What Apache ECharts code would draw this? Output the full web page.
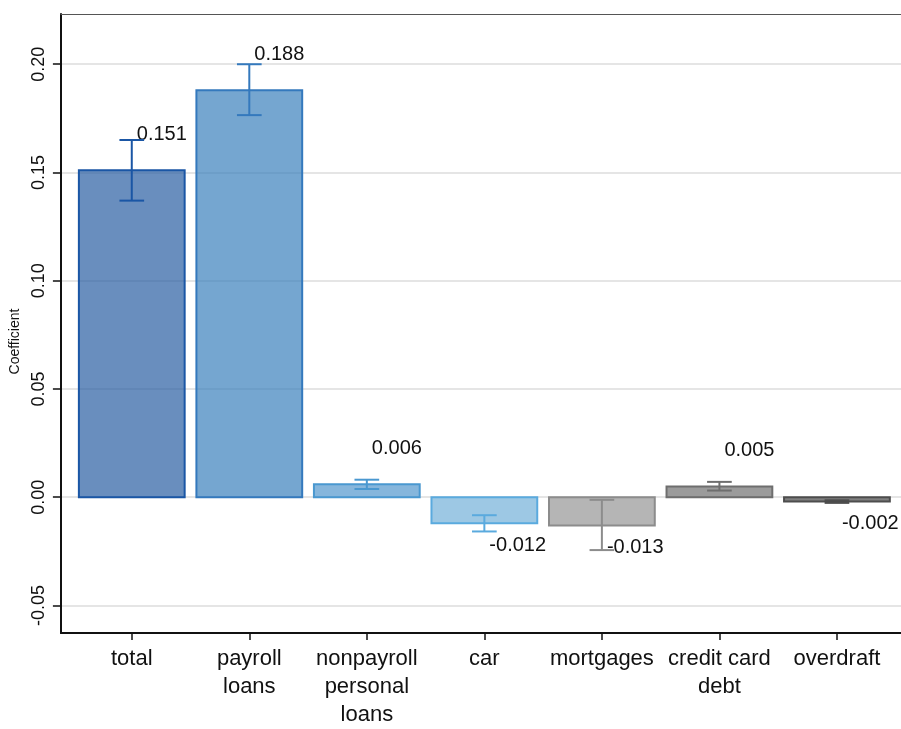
<!DOCTYPE html>
<html>
<head>
<meta charset="utf-8">
<script src="https://cdn.jsdelivr.net/npm/echarts@6/dist/echarts.min.js"></script>
<style>
  html, body { margin: 0; padding: 0; background: #fff; }
  #chart { width: 901px; height: 729px; }
</style>
</head>
<body>
<div id="chart"></div>
<script>
// Loan categories and estimated coefficients with 95% confidence bounds
const categories = ['total', 'payroll\nloans', 'nonpayroll\npersonal\nloans', 'car', 'mortgages', 'credit card\ndebt', 'overdraft'];
const coef   = [0.151, 0.188, 0.006, -0.012, -0.013, 0.005, -0.002];
const ciLow  = [0.137, 0.1765, 0.0038, -0.0158, -0.0244, 0.0031, -0.0026];
const ciHigh = [0.165, 0.200, 0.0081, -0.0083, -0.0012, 0.0071, -0.0014];
const yTicks = [-0.05, 0, 0.05, 0.10, 0.15, 0.20];

// Bar styling per category
const fills   = ['rgba(42,94,162,0.7)', 'rgba(59,128,188,0.7)', 'rgba(82,151,205,0.7)', 'rgba(115,176,216,0.7)',
                 'rgba(149,149,149,0.7)', 'rgba(112,112,112,0.7)', 'rgba(72,72,72,0.7)'];
const strokes = ['#1a56a5', '#3479bd', '#4a98d0', '#5aaade', '#8c8c8c', '#6e6e6e', '#4d4d4d'];

const positions = categories.map((c, i) => i + 1);
const FONT = "'Liberation Sans', Arial, sans-serif";
const X_MIN = 0.397, X_MAX = 7.545;

const chart = echarts.init(document.getElementById('chart'), null, { renderer: 'canvas' });

chart.setOption({
  animation: false,
  backgroundColor: '#fff',
  grid: { left: 58, right: 0, top: 14, bottom: 95 },
  xAxis: [
    {
      type: 'value', min: X_MIN, max: X_MAX,
      axisLine: { onZero: false, lineStyle: { color: '#111', width: 2 } },
      axisTick: { customValues: positions, length: 7, lineStyle: { color: '#111', width: 1.5 } },
      axisLabel: {
        customValues: positions,
        formatter: v => categories[Math.round(v) - 1] || '',
        fontFamily: FONT, fontSize: 22, lineHeight: 28, color: '#111', margin: 12
      },
      splitLine: { show: false }
    },
    {
      // plain frame line along the top of the plot
      type: 'value', position: 'top', min: X_MIN, max: X_MAX,
      axisLine: { onZero: false, lineStyle: { color: '#555', width: 1.2 } },
      axisTick: { show: false }, axisLabel: { show: false }, splitLine: { show: false }
    }
  ],
  yAxis: {
    type: 'value', min: -0.0627, max: 0.2232,
    name: 'Coefficient', nameLocation: 'middle', nameGap: 34,
    nameTextStyle: { fontFamily: FONT, fontSize: 14, color: '#111', padding: [0, 36, 0, 0] },
    axisLine: { onZero: false, lineStyle: { color: '#111', width: 2 } },
    axisTick: { customValues: yTicks, length: 8, lineStyle: { color: '#111', width: 1.5 } },
    axisLabel: {
      customValues: yTicks, rotate: 90, margin: 13,
      formatter: v => v.toFixed(2),
      fontFamily: FONT, fontSize: 18, color: '#111'
    },
    splitLine: { show: true, lineStyle: { color: '#dcdcdc', width: 1.5 } }
  },
  series: [
    {
      // bars with value labels
      type: 'custom',
      data: coef.map((v, i) => [positions[i], v, i]),
      renderItem: (params, api) => {
        const x = api.value(0), v = api.value(1), i = api.value(2);
        const base = api.coord([x, 0]);
        const top = api.coord([x, v]);
        const w = api.size([0.9, 0])[0];
        const y0 = Math.min(base[1], top[1]);
        const h = Math.abs(base[1] - top[1]);
        const labelY = v >= 0 ? top[1] - 26 : top[1] + 12;
        return {
          type: 'group',
          children: [
            {
              type: 'rect',
              shape: { x: base[0] - w / 2, y: y0, width: w, height: Math.max(h, 1) },
              style: { fill: fills[i], stroke: strokes[i], lineWidth: 2 }
            },
            {
              type: 'text',
              x: base[0] + 5, y: labelY,
              style: {
                text: v.toFixed(3), fill: '#111', fontFamily: FONT, fontSize: 20,
                align: 'left', verticalAlign: v >= 0 ? 'bottom' : 'top'
              },
              z2: 10
            }
          ]
        };
      },
      z: 2
    },
    {
      // confidence interval whiskers
      type: 'custom',
      data: coef.map((v, i) => [positions[i], ciLow[i], ciHigh[i], i]),
      renderItem: (params, api) => {
        const x = api.value(0), i = api.value(3);
        const lo = api.coord([x, api.value(1)]);
        const hi = api.coord([x, api.value(2)]);
        const cw = api.size([0.21, 0])[0] / 2;
        const st = { stroke: strokes[i], lineWidth: 2, fill: null };
        return {
          type: 'group',
          children: [
            { type: 'line', shape: { x1: lo[0], y1: lo[1], x2: hi[0], y2: hi[1] }, style: st },
            { type: 'line', shape: { x1: lo[0] - cw, y1: lo[1], x2: lo[0] + cw, y2: lo[1] }, style: st },
            { type: 'line', shape: { x1: hi[0] - cw, y1: hi[1], x2: hi[0] + cw, y2: hi[1] }, style: st }
          ]
        };
      },
      z: 3
    }
  ]
});
</script>
</body>
</html>
